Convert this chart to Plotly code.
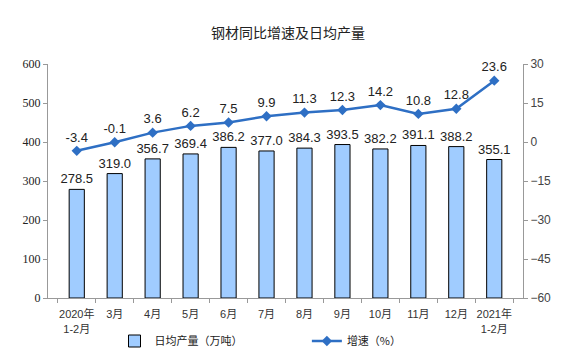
import plotly.graph_objects as go

categories = ["2020年<br>1-2月", "3月", "4月", "5月", "6月", "7月", "8月", "9月", "10月", "11月", "12月", "2021年<br>1-2月"]
output = [278.5, 319.0, 356.7, 369.4, 386.2, 377.0, 384.3, 393.5, 382.2, 391.1, 388.2, 355.1]
growth = [-3.4, -0.1, 3.6, 6.2, 7.5, 9.9, 11.3, 12.3, 14.2, 10.8, 12.8, 23.6]

fig = go.Figure()
fig.add_trace(go.Bar(
    x=categories, y=output, name="日均产量（万吨）",
    marker=dict(color="#A0CCFF", line=dict(color="#000000", width=1)),
    width=0.4,
    text=[f"{v:.1f}" for v in output], textposition="outside", constraintext="none",
    textfont=dict(family="Liberation Sans, Arial", size=13, color="#222"),
    cliponaxis=False, legend="legend",
))
fig.add_trace(go.Scatter(
    x=categories, y=growth, name="增速（%）", yaxis="y2",
    mode="lines+markers+text",
    line=dict(color="#2E6FC4", width=2.5),
    marker=dict(symbol="diamond", size=8, color="#2E6FC4"),
    text=[f"{v:.1f}" for v in growth], textposition="top center",
    textfont=dict(family="Liberation Sans, Arial", size=13, color="#222"),
    cliponaxis=False, legend="legend2",
))

fig.update_layout(
    width=576, height=357,
    margin=dict(l=48, r=53, t=64, b=59, autoexpand=False),
    paper_bgcolor="white", plot_bgcolor="white",
    title=dict(text="钢材同比增速及日均产量", x=0.5, xanchor="center", y=1 - 33 / 357, yanchor="middle",
               font=dict(family="Noto Sans CJK SC", size=14, color="#222")),
    xaxis=dict(
        type="category", showline=True, linecolor="#999", linewidth=1,
        ticks="outside", ticklen=4, tickcolor="#999", tickson="boundaries",
        tickangle=0, automargin=False, ticklabelstandoff=6,
        tickfont=dict(family="Liberation Sans, Noto Sans CJK SC", size=11, color="#333"),
        showgrid=False,
    ),
    yaxis=dict(
        range=[0, 600], dtick=100, showline=True, linecolor="#999", linewidth=1,
        ticks="outside", ticklen=4, tickcolor="#999", showgrid=False, zeroline=False,
        automargin=False,
        tickfont=dict(family="Liberation Serif, Times New Roman, serif", size=12, color="#222"),
    ),
    yaxis2=dict(
        range=[-60, 30], dtick=15, overlaying="y", side="right",
        showline=True, linecolor="#999", linewidth=1, automargin=False,
        ticks="outside", ticklen=4, tickcolor="#999", showgrid=False, zeroline=False,
        tickfont=dict(family="Liberation Sans, Arial", size=12, color="#444"),
    ),
    legend=dict(orientation="h", x=0.14, y=1 - 341 / 357, xref="paper", yref="container",
                xanchor="left", yanchor="middle",
                font=dict(family="Noto Sans CJK SC", size=11, color="#222"), bgcolor="rgba(0,0,0,0)"),
    legend2=dict(orientation="h", x=0.545, y=1 - 341 / 357, xref="paper", yref="container",
                 xanchor="left", yanchor="middle",
                 font=dict(family="Noto Sans CJK SC", size=11, color="#222"), bgcolor="rgba(0,0,0,0)"),
    showlegend=True,
)

fig.write_html("out.html")
